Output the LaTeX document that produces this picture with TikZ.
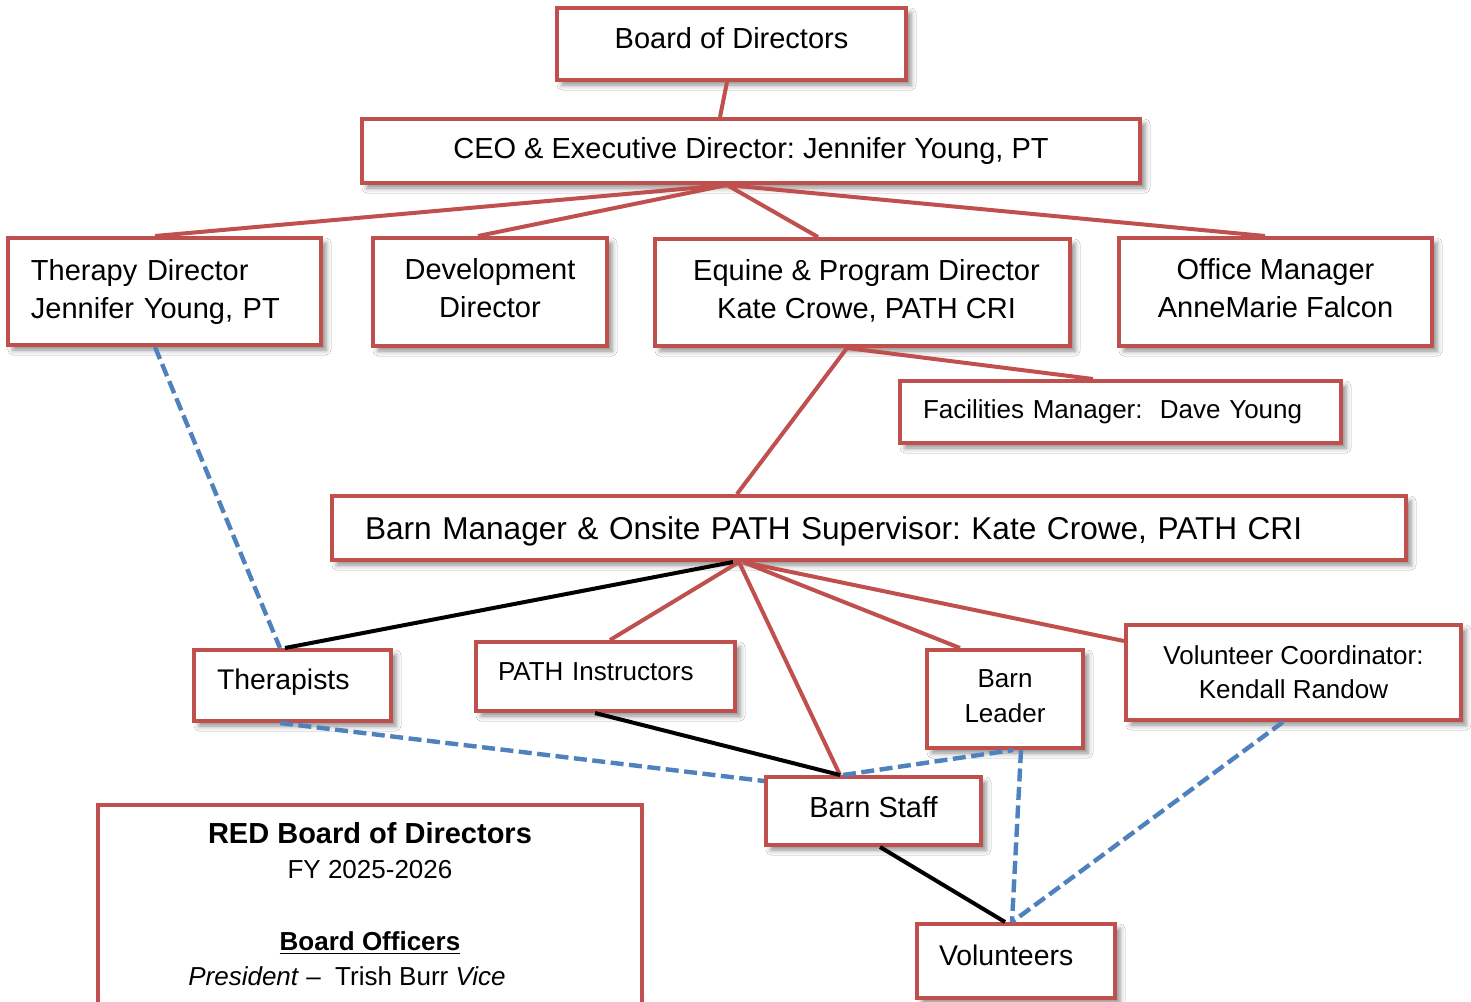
\documentclass[tikz,border=0pt]{standalone}
\usepackage{fontspec}
\setmainfont{Liberation Sans}
\frenchspacing
\usetikzlibrary{shadows.blur}
\definecolor{boxred}{RGB}{192,80,77}
\definecolor{linkblue}{RGB}{79,129,189}
\tikzset{
  orgbox/.style={draw=boxred, line width=2pt, fill=white, inner sep=0pt, align=center,
    font=\fontsize{14.5}{19}\selectfont,
    blur shadow={shadow xshift=2.5pt, shadow yshift=-2.5pt, shadow blur radius=2.5pt, shadow opacity=45}},
  smalltxt/.style={font=\fontsize{13}{17.5}\selectfont},
  lift/.style 2 args={text height=#1, text depth=#2},
  redlink/.style={draw=boxred, line width=2pt},
  blacklink/.style={draw=black, line width=2pt},
  bluelink/.style={draw=linkblue, line width=2.2pt, dash pattern=on 6.5pt off 2.75pt},
}
\begin{document}
\begin{tikzpicture}[x=0.5pt,y=-0.5pt]
\useasboundingbox (0,0) rectangle (1471,1001);
\clip (0,0) rectangle (1471,1001);
\fill[white] (0,0) rectangle (1471,1001);

% boxes
\node[orgbox, lift={10.4pt}{6pt}, minimum width=174.5pt, minimum height=36pt] (board) at (731.5,44) {Board of Directors};
\node[orgbox, lift={10.4pt}{3pt}, minimum width=389pt, minimum height=32pt] (ceo) at (751,151) {CEO \& Executive Director: Jennifer Young, PT};
\node[orgbox, minimum height=53.5pt, align=left, inner xsep=11.5pt, text width=133.5pt] (ther) at (164.5,291.5) {Therapy Director\\Jennifer Young, PT};
\node[orgbox, lift={29.4pt}{4pt}, minimum width=117pt, minimum height=54pt] (dev) at (490,292) {Development\\Director};
\node[orgbox, lift={29.4pt}{3.5pt}, minimum width=207.5pt, minimum height=53.5pt] (equ) at (862.5,292.5) {\hspace*{4pt}Equine \& Program Director\\\hspace*{4pt}Kate Crowe, PATH CRI};
\node[orgbox, lift={29.4pt}{3.5pt}, minimum width=156.5pt, minimum height=54pt] (off) at (1275.5,292) {Office Manager\\AnneMarie Falcon};
\node[orgbox, smalltxt, minimum height=31pt, align=left, inner xsep=11.5pt, text width=197.5pt] (fac) at (1120.5,412) {Facilities Manager:\ \ Dave Young};
\node[orgbox, font=\fontsize{15.8}{19}\selectfont, lift={11.3pt}{0pt}, minimum height=32pt, align=left, inner xsep=16.5pt, text width=504pt] (barn) at (869,528) {Barn Manager \& Onsite PATH Supervisor: Kate Crowe, PATH CRI};
\node[orgbox, font=\fontsize{14.2}{19}\selectfont, lift={10.2pt}{6.5pt}, minimum height=35.5pt, align=left, inner xsep=11.5pt, text width=75.5pt] (thps) at (292.5,685.5) {Therapists};
\node[orgbox, smalltxt, lift={9.3pt}{5.5pt}, minimum height=34.5pt, align=left, inner xsep=11pt, text width=107.5pt] (path) at (605.5,676.5) {PATH Instructors};
\node[orgbox, smalltxt, lift={26.8pt}{3.5pt}, minimum width=78pt, minimum height=49pt] (lead) at (1005,699) {Barn\\Leader};
\node[orgbox, font=\fontsize{13}{17}\selectfont, minimum width=167.5pt, minimum height=47.5pt] (volc) at (1293.5,672.5) {Volunteer Coordinator:\\Kendall Randow};
\node[orgbox, lift={10.4pt}{4pt}, minimum width=107.5pt, minimum height=34pt] (staff) at (873.5,811) {Barn Staff};
\node[orgbox, font=\fontsize{14.2}{19}\selectfont, lift={10.2pt}{6pt}, minimum height=37pt, align=left, inner xsep=11pt, text width=77pt] (vols) at (1016,961) {Volunteers};

% legend
\node[draw=boxred, line width=2pt, fill=white, minimum width=272pt, minimum height=150pt, anchor=north, inner sep=0pt] (legend) at (370,803) {};
\node[font=\bfseries\fontsize{14.5}{17}\selectfont] (lgtitle) at (370,833) {RED Board of Directors};
\node[font=\fontsize{13}{16}\selectfont] (lgfy) at (370,870) {FY 2025-2026};
\node[font=\bfseries\fontsize{13}{16}\selectfont] (lgoff) at (370,943) {\underline{Board Officers}};
\node[font=\fontsize{13}{16}\selectfont] (lgpres) at (347,976) {\textit{President} –\ \ Trish Burr \textit{Vice}};

% red links
\draw[redlink] ([xshift=-2.25pt]board.south) -- ([xshift=-15.5pt]ceo.north);
\draw[redlink] ([xshift=-12pt]ceo.south) -- ([xshift=-4.75pt]ther.north);
\draw[redlink] ([xshift=-12pt]ceo.south) -- ([xshift=-6pt]dev.north);
\draw[redlink] ([xshift=-12pt]ceo.south) -- ([xshift=-22.25pt]equ.north);
\draw[redlink] ([xshift=-12pt]ceo.south) -- ([xshift=-5.25pt]off.north);
\draw[redlink] ([xshift=-7.75pt]equ.south) -- ([xshift=-13.75pt]fac.north);
\draw[redlink] ([xshift=-7.75pt]equ.south) -- ([xshift=-66pt]barn.north);
\draw[redlink] ([xshift=-65pt]barn.south) -- ([xshift=2.25pt]path.north);
\draw[redlink] ([xshift=-65pt]barn.south) -- ([xshift=-16.75pt]staff.north);
\draw[redlink] ([xshift=-63pt]barn.south) -- ([xshift=-22.5pt]lead.north);
\draw[redlink] ([xshift=-63pt]barn.south) -- ([yshift=15.75pt]volc.west);

% black links
\draw[blacklink] ([xshift=-68pt]barn.south) -- ([xshift=-3.75pt]thps.north);
\draw[blacklink] ([xshift=-5.25pt]path.south) -- ([xshift=-16.75pt]staff.north);
\draw[blacklink] ([xshift=3.25pt]staff.south) -- ([xshift=-5.5pt]vols.north);

% blue dashed links
\draw[bluelink] ([xshift=-4.75pt]ther.south) -- ([xshift=-6.25pt]thps.north);
\draw[bluelink] ([xshift=-6.25pt]thps.south) -- ([yshift=15pt]staff.west);
\draw[bluelink] ([xshift=-15.25pt]staff.north) -- ([xshift=4pt]lead.south);
\draw[bluelink] ([xshift=8pt]lead.south) -- ([xshift=-2pt]vols.north);
\draw[bluelink] ([xshift=-5.25pt]volc.south) -- ([xshift=-2pt]vols.north);
\end{tikzpicture}
\end{document}
